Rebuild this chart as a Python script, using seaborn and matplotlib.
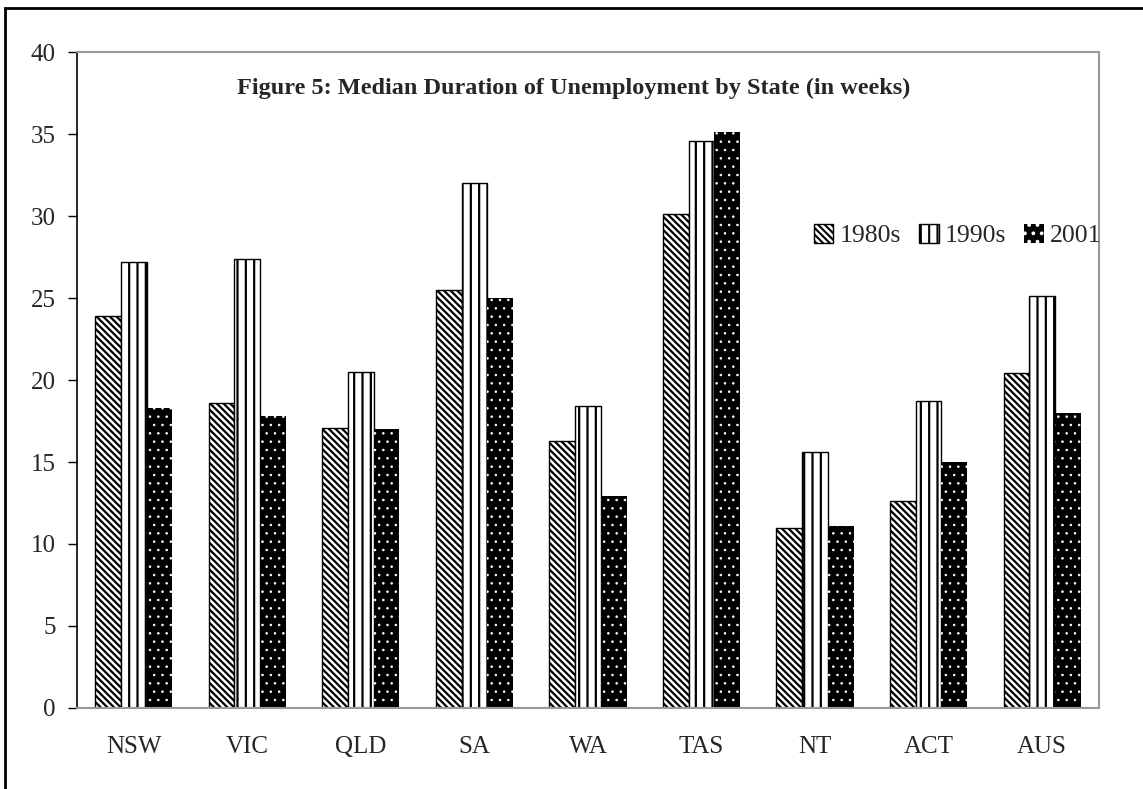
import matplotlib
matplotlib.use('Agg')
import matplotlib.pyplot as plt
from matplotlib.patches import Patch, Rectangle
import seaborn as sns
import pandas as pd

# data (weeks)
states = ['NSW', 'VIC', 'QLD', 'SA', 'WA', 'TAS', 'NT', 'ACT', 'AUS']
periods = ['1980s', '1990s', '2001']
vals_1980s = [23.9, 18.6, 17.1, 25.5, 16.3, 30.1, 11.0, 12.6, 20.4]
vals_1990s = [27.2, 27.4, 20.5, 32.0, 18.4, 34.6, 15.6, 18.7, 25.1]
vals_2001 = [18.3, 17.8, 17.0, 25.0, 12.9, 35.1, 11.1, 15.0, 18.0]

df = pd.DataFrame({
    'state': states * 3,
    'period': [p for p in periods for _ in states],
    'weeks': vals_1980s + vals_1990s + vals_2001,
})

sns.set_style('white')
plt.rcParams['font.family'] = ['Liberation Serif', 'DejaVu Serif']
plt.rcParams['hatch.linewidth'] = 1.5

fig = plt.figure(figsize=(11.43, 7.89), dpi=100)
ax = fig.add_axes([0.0674, 0.1027, 0.894, 0.8313])

sns.barplot(data=df, x='state', y='weeks', hue='period', order=states,
            hue_order=periods, width=0.68, gap=0, errorbar=None,
            palette=['white', 'white', 'black'], ax=ax, legend=False)

# hatch styles: diagonal, vertical, white dots on black
styles = [
    dict(hatch='\\\\\\\\\\', edgecolor='black', linewidth=1.0, hlw=1.6),
    dict(hatch='||', edgecolor='black', linewidth=1.0, hlw=1.6),
    dict(hatch='..', edgecolor='white', linewidth=0, hlw=0.6),
]


def apply_style(patch, st):
    patch.set_hatch(st['hatch'])
    patch.set_edgecolor(st['edgecolor'])
    patch.set_linewidth(st['linewidth'])
    if hasattr(patch, 'set_hatch_linewidth'):
        patch.set_hatch_linewidth(st['hlw'])


for cont, st in zip(ax.containers, styles):
    for bar in cont:
        apply_style(bar, st)

ax.set_ylim(0, 40)
ax.set_yticks(range(0, 41, 5))
ax.set_xlabel('')
ax.set_ylabel('')
ax.tick_params(axis='y', which='both', left=True, length=6.5, width=1,
               color='black', labelsize=18, pad=9)
ax.tick_params(axis='x', length=0, labelsize=18, pad=20)

for side in ['top', 'right', 'bottom']:
    ax.spines[side].set_color('#999999')
    ax.spines[side].set_linewidth(1.5)
ax.spines['left'].set_color('black')
ax.spines['left'].set_linewidth(1.2)

ax.text(0.486, 0.945, 'Figure 5: Median Duration of Unemployment by State (in weeks)',
        transform=ax.transAxes, ha='center', va='center',
        fontsize=17.5, fontweight='bold')

handles = []
for st, fc in zip(styles, ['white', 'white', 'black']):
    h = Patch(facecolor=fc)
    apply_style(h, st)
    handles.append(h)
ax.legend(handles, periods, loc='center', bbox_to_anchor=(0.862, 0.72),
          ncol=3, frameon=False, fontsize=18.5, handlelength=0.75,
          handleheight=0.75, handletextpad=0.25, columnspacing=0.7)

# outer chart frame
fig.patches.append(Rectangle((5 / 1143, -0.05), 1.2, 1.05 - 8 / 789,
                             transform=fig.transFigure, fill=False,
                             edgecolor='black', linewidth=2))

fig.savefig('out.png', dpi=100)
